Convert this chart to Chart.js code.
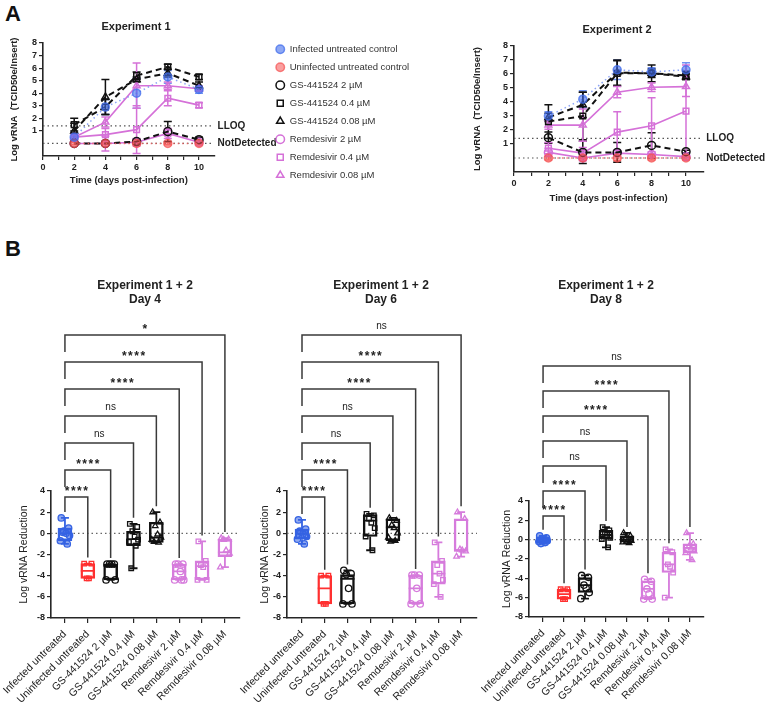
<!DOCTYPE html>
<html>
<head>
<meta charset="utf-8">
<script src="https://cdn.jsdelivr.net/npm/chart.js@4.4.0/dist/chart.umd.min.js"></script>
<style>
  body { margin: 0; width: 765px; height: 705px; position: relative; background: #fff; overflow: hidden; font-family: Arial, "Liberation Sans", sans-serif; }
  canvas { position: absolute; }
  .panel { position: absolute; font: bold 22px Arial, "Liberation Sans", sans-serif; color: #111; }
</style>
</head>
<body>
<div class="panel" style="left:5px;top:1px">A</div>
<div class="panel" style="left:5px;top:236px">B</div>
<canvas id="a1" width="290" height="180" style="left:0;top:15px"></canvas>
<canvas id="leg" width="200" height="170" style="left:267px;top:36px"></canvas>
<canvas id="a2" width="305" height="195" style="left:460px;top:15px"></canvas>
<canvas id="b4" width="250" height="435" style="left:0;top:270px"></canvas>
<canvas id="b6" width="270" height="435" style="left:235px;top:270px"></canvas>
<canvas id="b8" width="288" height="435" style="left:477px;top:270px"></canvas>
<script>
// ---- panel A data ----
const days = [2, 4, 6, 8, 10];
const timeTicks = [0, 1, 2, 3, 4, 5, 6, 7, 8, 9, 10];
const vrnaTicks = [1, 2, 3, 4, 5, 6, 7, 8];
const seriesLabels = ['Infected untreated control', 'Uninfected untreated control', 'GS-441524 2 µM',
  'GS-441524 0.4 µM', 'GS-441524 0.08 µM', 'Remdesivir 2 µM', 'Remdesivir 0.4 µM', 'Remdesivir 0.08 µM'];
const refValues = [1.4, 0];
const refLabels = ['LLOQ', 'NotDetected'];

// mean log vRNA per series (rows follow seriesLabels)
const exp1Means = [
  [0.5, 2.9, 4.0, 5.3, 4.3],
  [0, 0, 0, 0, 0],
  [0, 0, 0.15, 0.95, 0.3],
  [1.5, 2.9, 5.4, 6.1, 5.3],
  [1.0, 3.7, 5.1, 5.6, 4.6],
  [0, 0, 0.1, 0.8, 0.1],
  [0.5, 0.7, 1.1, 3.6, 3.05],
  [0.5, 1.7, 4.6, 4.6, 4.35]
];
const exp1Sd = [
  [0.3, 0.6, 1.2, 0.5, 0.3],
  [0.1, 0.1, 0.1, 0.1, 0.1],
  [0, 0, 0.2, 0.8, 0.2],
  [0.5, 0.6, 0.3, 0.2, 0.2],
  [0.6, 1.4, 0.2, 0.3, 0.3],
  [0, 0.6, 0.3, 0.4, 0.1],
  [0.3, 0.5, 1.9, 0.6, 0.2],
  [0.3, 0.4, 1.8, 0.3, 0.2]
];
const exp2Means = [
  [3.0, 4.2, 6.3, 6.15, 6.3],
  [0, 0, 0, 0, 0],
  [1.45, 0.4, 0.4, 0.9, 0.45],
  [2.6, 3.0, 6.05, 6.05, 5.9],
  [2.9, 3.8, 6.1, 6.05, 5.8],
  [0.4, 0, 0.35, 0.25, 0.1],
  [0.7, 0.35, 1.85, 2.3, 3.35],
  [2.35, 2.35, 4.7, 5.05, 5.1]
];
const exp2Sd = [
  [0.3, 0.6, 0.7, 0.3, 0.5],
  [0.15, 0.15, 0.2, 0.15, 0.15],
  [0.4, 0.8, 0.7, 0.9, 0.1],
  [1.2, 1.7, 0.9, 0.6, 0.3],
  [0.3, 0.9, 0.9, 0.3, 0.2],
  [0.3, 0.2, 0.2, 0.2, 0.1],
  [0.4, 0.4, 1.45, 2.0, 3.3],
  [0.3, 1.15, 0.4, 0.3, 0.7]
];

// ---- panel B data ----
const groups = ['Infected untreated', 'Uninfected untreated', 'GS-441524 2 µM', 'GS-441524 0.4 µM',
  'GS-441524 0.08 µM', 'Remdesivir 2 µM', 'Remdesivir 0.4 µM', 'Remdesivir 0.08 µM'];
const bTitles = ['Day 4', 'Day 6', 'Day 8'];
// [min, q1, median, q3, max]
const day4Box = [
  [-1.0, -0.7, 0, 0.5, 1.46], [-4.25, -4.25, -3.55, -2.86, -2.86], [-4.4, -4.4, -3.1, -2.9, -2.9],
  [-3.3, -1.17, -0.55, 0.2, 0.9], [-0.86, -0.86, -0.4, 1.05, 2.0], [-4.4, -4.4, -3.6, -2.9, -2.9],
  [-4.4, -4.4, -3.1, -2.6, -0.76], [-3.2, -2.2, -1.8, -0.55, -0.45]
];
const day6Box = [
  [-1.0, -0.55, -0.05, 0.4, 1.27], [-6.67, -6.67, -5.2, -4.0, -4.0], [-6.67, -6.67, -4.3, -3.9, -3.5],
  [-1.6, -0.3, 1.2, 1.78, 1.84], [-0.76, -0.7, 0.57, 1.37, 1.46], [-6.67, -6.67, -5.2, -3.94, -3.94],
  [-6.0, -4.8, -3.8, -2.6, -0.86], [-2.2, -1.7, -1.6, 1.37, 2.0]
];
const day8Box = [
  [-0.4, -0.3, 0, 0.3, 0.4], [-6.15, -6.15, -5.64, -5.13, -5.13], [-6.1, -5.47, -4.7, -3.93, -3.7],
  [-0.8, 0.07, 0.5, 0.96, 1.3], [-0.35, -0.27, 0, 0.4, 0.7], [-6.15, -6.15, -5.1, -4.27, -4.1],
  [-6.0, -3.4, -2.56, -1.3, -1.0], [-2.1, -1.37, -0.85, -0.44, 0.68]
];
const day4Points = [
  [1.46, 0.5, 0.2, 0, -0.2, -0.7, -1.0, 0.1], [-2.86, -2.86, -4.25, -4.25], [-2.9, -2.9, -2.9, -2.9, -4.4, -4.4],
  [0.9, 0.6, 0.2, -0.3, -0.6, -0.8, -1.17, -3.3], [2.0, 1.05, 0.7, -0.1, -0.4, -0.6, -0.86, -0.8],
  [-2.9, -2.9, -2.9, -3.6, -4.4, -4.4, -4.4], [-0.76, -2.6, -3.0, -3.2, -4.4, -4.4],
  [-0.45, -0.55, -0.6, -1.6, -1.9, -3.2]
];
const day6Points = [
  [1.27, 0.4, 0.1, -0.05, -0.3, -0.55, -1.0, 0.2], [-4.0, -4.0, -6.67, -6.67], [-3.5, -3.8, -3.9, -5.2, -6.67, -6.67],
  [1.84, 1.7, 1.4, 1.0, 0.5, -0.3, -1.6], [1.46, 1.2, 0.8, 0.5, 0, -0.4, -0.7, -0.76],
  [-3.94, -3.94, -3.94, -5.2, -6.67, -6.67], [-0.86, -2.6, -3.0, -3.8, -4.4, -4.8, -6.0],
  [2.0, 1.37, -1.5, -1.6, -1.7, -2.2]
];
const day8Points = [
  [0.4, 0.2, 0.1, 0, -0.1, -0.2, -0.3, -0.4], [-5.13, -5.13, -6.15, -6.15], [-3.7, -3.9, -4.7, -5.0, -5.47, -6.1],
  [1.3, 0.96, 0.7, 0.5, 0.2, 0.07, -0.8], [0.7, 0.4, 0.2, 0, -0.1, -0.27, -0.35],
  [-4.1, -4.3, -5.1, -5.6, -6.15, -6.15], [-1.0, -1.3, -2.56, -2.8, -3.4, -6.0],
  [0.68, -0.44, -0.7, -0.9, -1.2, -1.37, -2.1]
];
// significance vs infected untreated, for groups 1..7
const day4Sig = ['****', '****', 'ns', 'ns', '****', '****', '*'];
const day6Sig = ['****', '****', 'ns', 'ns', '****', '****', 'ns'];
const day8Sig = ['****', '****', 'ns', 'ns', '****', '****', 'ns'];

// ---- styles ----
Chart.defaults.font.family = 'Arial, "Liberation Sans", sans-serif';
Chart.defaults.color = '#222';
const AXIS = '#262626';
const MAG = '#d571d8';
const seriesStyle = [
  {shape: 'circle', line: 'rgba(110,140,245,0.8)', mark: 'rgba(66,110,236,0.75)', fill: 'rgba(66,110,236,0.6)', dash: [1.5, 3], w: 1.5},
  {shape: 'circle', line: 'rgba(245,100,100,0.85)', mark: 'rgba(245,80,80,0.7)', fill: 'rgba(245,80,80,0.55)', dash: [1.5, 3], w: 1.5},
  {shape: 'circle', line: '#111', mark: '#111', fill: 'rgba(255,255,255,0)', dash: [6, 4], w: 2},
  {shape: 'rect', line: '#111', mark: '#111', fill: 'rgba(255,255,255,0)', dash: [6, 4], w: 2},
  {shape: 'triangle', line: '#111', mark: '#111', fill: 'rgba(255,255,255,0)', dash: [6, 4], w: 2},
  {shape: 'circle', line: MAG, mark: MAG, fill: 'rgba(255,255,255,0)', dash: [], w: 1.6},
  {shape: 'rect', line: MAG, mark: MAG, fill: 'rgba(255,255,255,0)', dash: [], w: 1.6},
  {shape: 'triangle', line: MAG, mark: MAG, fill: 'rgba(255,255,255,0)', dash: [], w: 1.6}
];
const groupColor = ['#3563e3', '#ff3030', '#111', '#111', '#111', '#d67bdc', '#d67bdc', '#d67bdc'];
const groupShape = ['circle', 'rect', 'circle', 'rect', 'triangle', 'circle', 'rect', 'triangle'];
const jitter = [-0.16, 0.16, -0.05, 0.05, 0.2, -0.2, 0.1, -0.1];

function lineDatasets(means, sds) {
  return means.map((m, s) => {
    const st = seriesStyle[s];
    return {
      label: seriesLabels[s],
      data: days.map((d, i) => ({x: d, y: m[i]})),
      sd: sds[s],
      borderColor: st.line, borderDash: st.dash, borderWidth: st.w,
      pointStyle: st.shape, pointRadius: 4, pointBorderWidth: 1.5,
      pointBackgroundColor: st.fill, pointBorderColor: st.mark,
      tension: 0, fill: false
    };
  });
}

function timeExtras(L) {
  return {
    id: 'timeExtras',
    beforeDatasetsDraw(chart) {
      const {ctx, chartArea: a, scales: {x, y}} = chart;
      ctx.save();
      ctx.strokeStyle = '#555';
      ctx.lineWidth = 1.2;
      ctx.setLineDash([1.5, 3]);
      refValues.forEach(v => {
        const py = y.getPixelForValue(v);
        ctx.beginPath(); ctx.moveTo(a.left, py); ctx.lineTo(a.right - 2, py); ctx.stroke();
      });
      ctx.setLineDash([]);
      ctx.lineWidth = 1.5;
      chart.data.datasets.forEach(ds => {
        ctx.strokeStyle = ds.pointBorderColor;
        ds.data.forEach((p, i) => {
          const e = ds.sd[i];
          if (!e) return;
          const px = x.getPixelForValue(p.x);
          const hi = y.getPixelForValue(p.y + e), lo = y.getPixelForValue(p.y - e);
          ctx.beginPath();
          ctx.moveTo(px, hi); ctx.lineTo(px, lo);
          ctx.moveTo(px - 4, hi); ctx.lineTo(px + 4, hi);
          ctx.moveTo(px - 4, lo); ctx.lineTo(px + 4, lo);
          ctx.stroke();
        });
      });
      ctx.restore();
    },
    afterDraw(chart) {
      const {ctx, chartArea: a, scales: {y}} = chart;
      ctx.save();
      ctx.fillStyle = '#222';
      ctx.font = 'bold 10px Arial, "Liberation Sans", sans-serif';
      ctx.textAlign = 'left';
      ctx.textBaseline = 'middle';
      refLabels.forEach((t, k) => ctx.fillText(t, a.right + 3, y.getPixelForValue(refValues[k])));
      ctx.font = 'bold 11px Arial, "Liberation Sans", sans-serif';
      ctx.textAlign = 'center';
      ctx.fillText(L.title, L.titleX, L.titleY);
      ctx.restore();
    }
  };
}

function timeChart(id, means, sds, L) {
  new Chart(document.getElementById(id), {
    type: 'line',
    data: {datasets: lineDatasets(means, sds)},
    options: {
      responsive: false,
      animation: false,
      layout: {padding: {left: L.padLeft, right: L.padRight, top: L.padTop, bottom: 0}},
      plugins: {legend: {display: false}, tooltip: {enabled: false}},
      scales: {
        x: {
          type: 'linear', min: 0, max: 11,
          afterBuildTicks: s => { s.ticks = timeTicks.map(v => ({value: v})); },
          afterFit: s => { s.height = L.xHeight; s.paddingLeft = 0; s.paddingRight = 0; },
          ticks: {callback: v => (v % 2 === 0 ? v : ''), autoSkip: false, maxRotation: 0,
                  font: {size: 9, weight: 'bold'}, color: '#222', padding: 2},
          grid: {drawOnChartArea: false, tickLength: 4, color: AXIS, lineWidth: 1.2},
          border: {color: AXIS, width: 1.6},
          title: {display: true, text: 'Time (days post-infection)', color: '#222',
                  font: {size: 9.5, weight: 'bold'}, padding: {top: 0, bottom: L.xTitlePad}}
        },
        y: {
          min: -1, max: 8,
          afterBuildTicks: s => { s.ticks = vrnaTicks.map(v => ({value: v})); },
          afterFit: s => { s.width = L.yWidth; },
          ticks: {font: {size: 9, weight: 'bold'}, color: '#222', padding: 2},
          grid: {drawOnChartArea: false, tickLength: 4, color: AXIS, lineWidth: 1.2},
          border: {color: AXIS, width: 1.6},
          title: {display: true, text: 'Log vRNA  (TCID50e/Insert)', color: '#222',
                  font: {size: 9.5, weight: 'bold'}, padding: {top: 4, bottom: 2}}
        }
      }
    },
    plugins: [timeExtras(L)]
  });
}

function boxExtras(stats, sig, L) {
  return {
    id: 'boxExtras',
    beforeDatasetsDraw(chart) {
      const {ctx, chartArea: a, scales: {y}} = chart;
      const py = y.getPixelForValue(0);
      ctx.save();
      ctx.strokeStyle = '#666';
      ctx.lineWidth = 1.2;
      ctx.setLineDash([1.5, 3]);
      ctx.beginPath(); ctx.moveTo(a.left, py); ctx.lineTo(a.right, py); ctx.stroke();
      ctx.restore();
    },
    afterDatasetDraw(chart, args) {
      if (args.index !== 0) return;
      const {ctx, scales: {x, y}} = chart;
      ctx.save();
      ctx.lineWidth = 1.8;
      stats.forEach((s, i) => {
        const px = x.getPixelForValue(i);
        ctx.strokeStyle = groupColor[i];
        ctx.beginPath();
        ctx.moveTo(px, y.getPixelForValue(s[4])); ctx.lineTo(px, y.getPixelForValue(s[3]));
        ctx.moveTo(px, y.getPixelForValue(s[1])); ctx.lineTo(px, y.getPixelForValue(s[0]));
        [s[0], s[4]].forEach(v => {
          const p = y.getPixelForValue(v);
          ctx.moveTo(px - 4, p); ctx.lineTo(px + 4, p);
        });
        const m = y.getPixelForValue(s[2]);
        ctx.moveTo(px - 7, m); ctx.lineTo(px + 7, m);
        ctx.stroke();
      });
      ctx.restore();
    },
    afterDraw(chart) {
      const {ctx, chartArea: a, scales: {x, y}} = chart;
      ctx.save();
      ctx.strokeStyle = '#3a3a3a';
      ctx.lineWidth = 1.5;
      ctx.fillStyle = '#222';
      ctx.textAlign = 'center';
      ctx.textBaseline = 'alphabetic';
      const x0 = x.getPixelForValue(0);
      const leftStop = y.getPixelForValue(stats[0][4]) - 6;
      sig.forEach((lab, k) => {
        const t = k + 1;
        const ly = a.top + L.brBase - k * L.brStep;
        const x1 = x.getPixelForValue(t);
        ctx.beginPath();
        ctx.moveTo(x0, Math.min(ly + 17, leftStop));
        ctx.lineTo(x0, ly);
        ctx.lineTo(x1, ly);
        ctx.lineTo(x1, y.getPixelForValue(stats[t][4]) - 6);
        ctx.stroke();
        if (lab === 'ns') {
          ctx.font = '10px Arial, "Liberation Sans", sans-serif';
          ctx.letterSpacing = '0px';
          ctx.fillText(lab, (x0 + x1) / 2, ly - 6);
        } else {
          ctx.font = 'bold 12px Arial, "Liberation Sans", sans-serif';
          ctx.letterSpacing = '1.5px';
          ctx.fillText(lab, (x0 + x1) / 2 + 0.75, ly - 2);
        }
      });
      ctx.letterSpacing = '0px';
      ctx.font = 'bold 12px Arial, "Liberation Sans", sans-serif';
      ctx.textBaseline = 'middle';
      ctx.fillText('Experiment 1 + 2', L.titleX, 16);
      ctx.fillText(L.day, L.titleX, 30);
      ctx.restore();
    }
  };
}

function boxChart(id, stats, pts, sig, L) {
  const datasets = [{
    type: 'bar',
    data: stats.map((s, i) => ({x: i, y: [s[1], s[3]]})),
    backgroundColor: 'rgba(0,0,0,0)', borderColor: groupColor, borderWidth: 1.8,
    borderSkipped: false, barThickness: 14, order: 2
  }];
  pts.forEach((vals, g) => datasets.push({
    type: 'scatter',
    data: vals.map((v, j) => ({x: g + jitter[j % jitter.length], y: v})),
    pointStyle: groupShape[g], pointRadius: 3.2, pointBorderWidth: 1.3,
    pointBorderColor: groupColor[g],
    pointBackgroundColor: g === 0 ? 'rgba(53,99,227,0.55)' : 'rgba(255,255,255,0)',
    order: 1
  }));
  new Chart(document.getElementById(id), {
    type: 'bar',
    data: {datasets},
    options: {
      responsive: false,
      animation: false,
      layout: {padding: {left: L.padLeft, right: L.padRight, top: L.padTop, bottom: 0}},
      plugins: {legend: {display: false}, tooltip: {enabled: false}},
      scales: {
        x: {
          type: 'linear', offset: false, min: L.xMin, max: L.xMax,
          afterBuildTicks: s => { s.ticks = groups.map((g, i) => ({value: i})); },
          afterFit: s => { s.height = L.xHeight; s.paddingLeft = 0; s.paddingRight = 0; },
          ticks: {callback: v => groups[v], autoSkip: false, minRotation: 45, maxRotation: 45,
                  font: {size: 10.5}, color: '#222', padding: 5},
          grid: {offset: false, drawOnChartArea: false, tickLength: 5, color: AXIS, lineWidth: 1.2},
          border: {color: AXIS, width: 1.6}
        },
        y: {
          min: -8, max: 4,
          afterFit: s => { s.width = L.yWidth; },
          ticks: {stepSize: 2, font: {size: 9, weight: 'bold'}, color: '#222', padding: 2},
          grid: {drawOnChartArea: false, tickLength: 4, color: AXIS, lineWidth: 1.2},
          border: {color: AXIS, width: 1.6},
          title: {display: true, text: 'Log vRNA Reduction', color: '#222', font: {size: 10.5},
                  padding: {top: 4, bottom: 2}}
        }
      }
    },
    plugins: [boxExtras(stats, sig, L)]
  });
}

// ---- panel A ----
timeChart('a1', exp1Means, exp1Sd, {padLeft: 5, yWidth: 38, padTop: 28, padRight: 75.4, xHeight: 39,
  xTitlePad: 8.5, title: 'Experiment 1', titleX: 136, titleY: 12});
timeChart('a2', exp2Means, exp2Sd, {padLeft: 8, yWidth: 46, padTop: 31, padRight: 61.8, xHeight: 38,
  xTitlePad: 5.5, title: 'Experiment 2', titleX: 157, titleY: 14.5});

new Chart(document.getElementById('leg'), {
  type: 'line',
  data: {datasets: lineDatasets(exp1Means, exp1Sd).map(d => ({...d, data: []}))},
  options: {
    responsive: false,
    animation: false,
    layout: {padding: 0},
    scales: {x: {display: false}, y: {display: false}},
    plugins: {
      tooltip: {enabled: false},
      legend: {
        position: 'top', align: 'start', maxHeight: 400,
        labels: {
          usePointStyle: true, boxWidth: 9.5, boxHeight: 6, padding: 8.5,
          font: {size: 9.5}, color: '#333',
          generateLabels: ch => ch.data.datasets.map((d, i) => ({
            text: d.label, datasetIndex: i, hidden: false,
            pointStyle: d.pointStyle, fillStyle: d.pointBackgroundColor,
            strokeStyle: d.pointBorderColor, lineWidth: 1.5, fontColor: '#333'
          }))
        }
      }
    }
  }
});

// ---- panel B ----
boxChart('b4', day4Box, day4Points, day4Sig, {padLeft: 14, yWidth: 37, padRight: 10, padTop: 221, xHeight: 87,
  xMin: -0.61, xMax: 7.66, brBase: 6, brStep: 27, titleX: 145, day: bTitles[0]});
boxChart('b6', day6Box, day6Points, day6Sig, {padLeft: 20, yWidth: 32, padRight: 28, padTop: 221, xHeight: 87,
  xMin: -0.66, xMax: 7.7, brBase: 6, brStep: 27, titleX: 146, day: bTitles[1]});
boxChart('b8', day8Box, day8Points, day8Sig, {padLeft: 20, yWidth: 32, padRight: 61, padTop: 231, xHeight: 88,
  xMin: -0.67, xMax: 7.67, brBase: 15, brStep: 25, titleX: 129, day: bTitles[2]});
</script>
</body>
</html>
